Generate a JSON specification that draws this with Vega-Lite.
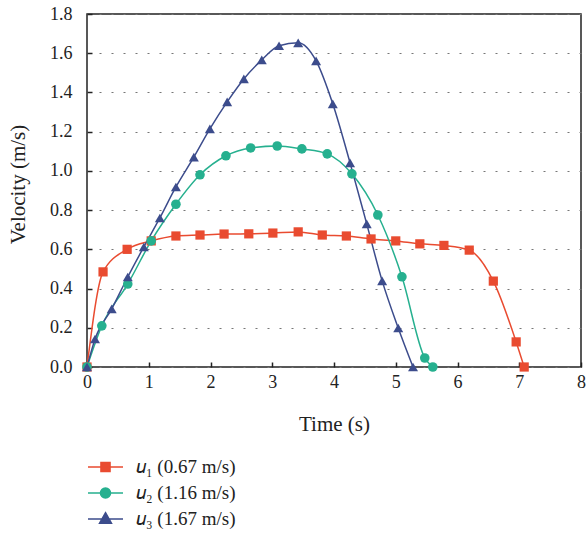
{
  "$schema": "https://vega.github.io/schema/vega-lite/v6.json",
  "width": 494,
  "height": 353,
  "autosize": {"type": "none"},
  "padding": {"left": 87, "top": 14, "right": 5, "bottom": 168},
  "background": "white",
  "config": {
    "font": "Liberation Serif",
    "view": {"stroke": "#222", "strokeWidth": 1.5},
    "axis": {
      "labelFont": "Liberation Serif",
      "titleFont": "Liberation Serif",
      "labelFontSize": 18,
      "titleFontSize": 21,
      "titleFontWeight": "normal",
      "labelColor": "#222",
      "titleColor": "#222",
      "domain": false,
      "tickColor": "#222",
      "tickWidth": 1.5
    },
    "legend": {
      "labelFont": "Liberation Serif",
      "labelFontSize": 19,
      "labelColor": "#222"
    }
  },
  "data": {
    "values": [
      {"series": "𝑢₁ (0.67 m/s)", "t": 0, "v": 0},
      {"series": "𝑢₁ (0.67 m/s)", "t": 0.26, "v": 0.485},
      {"series": "𝑢₁ (0.67 m/s)", "t": 0.65, "v": 0.6},
      {"series": "𝑢₁ (0.67 m/s)", "t": 1.04, "v": 0.643},
      {"series": "𝑢₁ (0.67 m/s)", "t": 1.44, "v": 0.668},
      {"series": "𝑢₁ (0.67 m/s)", "t": 1.83, "v": 0.673},
      {"series": "𝑢₁ (0.67 m/s)", "t": 2.22, "v": 0.678},
      {"series": "𝑢₁ (0.67 m/s)", "t": 2.62, "v": 0.679},
      {"series": "𝑢₁ (0.67 m/s)", "t": 3.01, "v": 0.683},
      {"series": "𝑢₁ (0.67 m/s)", "t": 3.42, "v": 0.689},
      {"series": "𝑢₁ (0.67 m/s)", "t": 3.81, "v": 0.673},
      {"series": "𝑢₁ (0.67 m/s)", "t": 4.2, "v": 0.668},
      {"series": "𝑢₁ (0.67 m/s)", "t": 4.6, "v": 0.653},
      {"series": "𝑢₁ (0.67 m/s)", "t": 5.0, "v": 0.643},
      {"series": "𝑢₁ (0.67 m/s)", "t": 5.39, "v": 0.628},
      {"series": "𝑢₁ (0.67 m/s)", "t": 5.78, "v": 0.62},
      {"series": "𝑢₁ (0.67 m/s)", "t": 6.19, "v": 0.596},
      {"series": "𝑢₁ (0.67 m/s)", "t": 6.58, "v": 0.438},
      {"series": "𝑢₁ (0.67 m/s)", "t": 6.95, "v": 0.128},
      {"series": "𝑢₁ (0.67 m/s)", "t": 7.08, "v": 0},
      {"series": "𝑢₂ (1.16 m/s)", "t": 0, "v": 0},
      {"series": "𝑢₂ (1.16 m/s)", "t": 0.24, "v": 0.21},
      {"series": "𝑢₂ (1.16 m/s)", "t": 0.66, "v": 0.423},
      {"series": "𝑢₂ (1.16 m/s)", "t": 1.04, "v": 0.643},
      {"series": "𝑢₂ (1.16 m/s)", "t": 1.44, "v": 0.83},
      {"series": "𝑢₂ (1.16 m/s)", "t": 1.83, "v": 0.98},
      {"series": "𝑢₂ (1.16 m/s)", "t": 2.25, "v": 1.077},
      {"series": "𝑢₂ (1.16 m/s)", "t": 2.65, "v": 1.117},
      {"series": "𝑢₂ (1.16 m/s)", "t": 3.08, "v": 1.127},
      {"series": "𝑢₂ (1.16 m/s)", "t": 3.48, "v": 1.112},
      {"series": "𝑢₂ (1.16 m/s)", "t": 3.89, "v": 1.087},
      {"series": "𝑢₂ (1.16 m/s)", "t": 4.29, "v": 0.985},
      {"series": "𝑢₂ (1.16 m/s)", "t": 4.71, "v": 0.775},
      {"series": "𝑢₂ (1.16 m/s)", "t": 5.1, "v": 0.46},
      {"series": "𝑢₂ (1.16 m/s)", "t": 5.47, "v": 0.046},
      {"series": "𝑢₂ (1.16 m/s)", "t": 5.6, "v": 0},
      {"series": "𝑢₃ (1.67 m/s)", "t": 0, "v": 0},
      {"series": "𝑢₃ (1.67 m/s)", "t": 0.13, "v": 0.143},
      {"series": "𝑢₃ (1.67 m/s)", "t": 0.4, "v": 0.296},
      {"series": "𝑢₃ (1.67 m/s)", "t": 0.66, "v": 0.459},
      {"series": "𝑢₃ (1.67 m/s)", "t": 0.92, "v": 0.612},
      {"series": "𝑢₃ (1.67 m/s)", "t": 1.18, "v": 0.76},
      {"series": "𝑢₃ (1.67 m/s)", "t": 1.44, "v": 0.918},
      {"series": "𝑢₃ (1.67 m/s)", "t": 1.73, "v": 1.07},
      {"series": "𝑢₃ (1.67 m/s)", "t": 1.99, "v": 1.214},
      {"series": "𝑢₃ (1.67 m/s)", "t": 2.27, "v": 1.352},
      {"series": "𝑢₃ (1.67 m/s)", "t": 2.54, "v": 1.469},
      {"series": "𝑢₃ (1.67 m/s)", "t": 2.83, "v": 1.566},
      {"series": "𝑢₃ (1.67 m/s)", "t": 3.11, "v": 1.638},
      {"series": "𝑢₃ (1.67 m/s)", "t": 3.42, "v": 1.653},
      {"series": "𝑢₃ (1.67 m/s)", "t": 3.71, "v": 1.561},
      {"series": "𝑢₃ (1.67 m/s)", "t": 3.98, "v": 1.342},
      {"series": "𝑢₃ (1.67 m/s)", "t": 4.26, "v": 1.041},
      {"series": "𝑢₃ (1.67 m/s)", "t": 4.53, "v": 0.73},
      {"series": "𝑢₃ (1.67 m/s)", "t": 4.78, "v": 0.439},
      {"series": "𝑢₃ (1.67 m/s)", "t": 5.04, "v": 0.199},
      {"series": "𝑢₃ (1.67 m/s)", "t": 5.28, "v": 0}
    ]
  },
  "encoding": {
    "x": {
      "field": "t", "type": "quantitative",
      "scale": {"domain": [0, 8], "nice": false},
      "axis": {
        "title": "Time (s)",
        "values": [0, 0.5, 1, 1.5, 2, 2.5, 3, 3.5, 4, 4.5, 5, 5.5, 6, 6.5, 7, 7.5, 8],
        "format": "d",
        "labelExpr": "datum.value % 1 === 0 ? datum.label : ''",
        "labelFont": "Liberation Serif",
        "tickSize": -5,
        "labelPadding": 11,
        "labelFlush": false,
        "grid": false,
        "titleY": 57,
        "titleBaseline": "middle"
      }
    },
    "y": {
      "field": "v", "type": "quantitative",
      "scale": {"domain": [0, 1.8], "nice": false},
      "axis": {
        "title": "Velocity (m/s)",
        "values": [0, 0.2, 0.4, 0.6, 0.8, 1.0, 1.2, 1.4, 1.6, 1.8],
        "format": ".1f",
        "labelFont": "Liberation Serif",
        "tickSize": -5,
        "labelPadding": 20,
        "labelFlush": false,
        "grid": true,
        "gridDash": [2, 10],
        "gridColor": "#777",
        "gridWidth": 1.2,
        "titleX": -69,
        "titleY": 170,
        "titleBaseline": "middle",
        "titleAngle": -90
      }
    },
    "color": {
      "field": "series", "type": "nominal",
      "scale": {"range": ["#E94B30", "#26B08F", "#3C4C8C"]},
      "legend": {
        "title": null,
        "orient": "none",
        "legendX": 0,
        "legendY": 440,
        "padding": 0,
        "symbolSize": 1225,
        "labelOffset": 12,
        "rowPadding": 0,
        "clipHeight": 26,
        "encode": {
          "symbols": {
            "update": {
              "shape": {"signal": "indexof(datum.value, '₁') >= 0 ? 'M-1,0H1M-0.26,-0.26H0.26V0.26H-0.26Z' : indexof(datum.value, '₂') >= 0 ? 'M-1,0H-0.29A0.29,0.29,0,1,1,0.29,0H1M0.29,0A0.29,0.29,0,1,1,-0.29,0' : 'M-1,0H1M0,-0.36L0.34,0.24H-0.34Z'"},
              "fill": {"signal": "scale('color', datum.value)"},
              "stroke": {"signal": "scale('color', datum.value)"},
              "strokeWidth": {"value": 1.5},
              "opacity": {"value": 1}
            }
          }
        }
      }
    }
  },
  "layer": [
    {
      "mark": {"type": "line", "interpolate": "monotone", "strokeWidth": 1.5, "clip": false}
    },
    {
      "mark": {"type": "point", "filled": true, "opacity": 1, "clip": false},
      "encoding": {
        "shape": {
          "field": "series", "type": "nominal",
          "scale": {"range": ["square", "circle", "triangle-up"]},
          "legend": null
        },
        "size": {
          "field": "series", "type": "nominal",
          "scale": {"range": [85, 100, 130]},
          "legend": null
        }
      }
    }
  ]
}
